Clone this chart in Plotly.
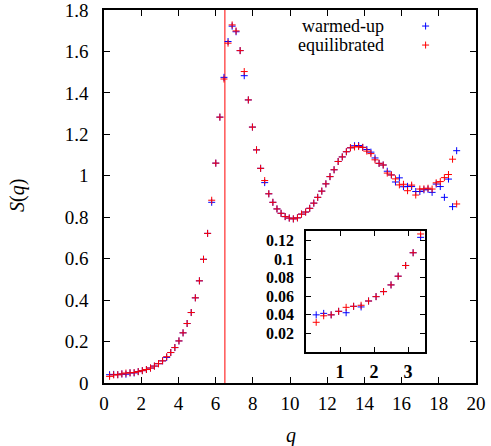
import plotly.graph_objects as go

# Wave numbers of the sampled structure factor
q = [0.30, 0.52, 0.74, 0.96, 1.18, 1.40, 1.62, 1.84, 2.06, 2.28,
     2.50, 2.71, 2.93, 3.15, 3.37, 3.59, 3.81, 4.03, 4.25, 4.47,
     4.69, 4.91, 5.13, 5.35, 5.57, 5.79, 6.01, 6.23, 6.45, 6.67,
     6.89, 7.10, 7.32, 7.54, 7.76, 7.98, 8.20, 8.42, 8.64, 8.86,
     9.08, 9.30, 9.52, 9.74, 9.96, 10.18, 10.40, 10.62, 10.84, 11.06,
     11.28, 11.49, 11.71, 11.93, 12.15, 12.37, 12.59, 12.81, 13.03, 13.25,
     13.47, 13.69, 13.91, 14.13, 14.35, 14.57, 14.79, 15.01, 15.23, 15.45,
     15.67, 15.88, 16.10, 16.32, 16.54, 16.76, 16.98, 17.20, 17.42, 17.64,
     17.86, 18.08, 18.30, 18.52, 18.74, 18.96]

# S(q) after warm-up
s_warmed = [0.040, 0.0416, 0.040, 0.0438, 0.0423, 0.0492, 0.0485, 0.0549, 0.0596, 0.065,
            0.0722, 0.0816, 0.0931, 0.1068, 0.1234, 0.147, 0.171, 0.203, 0.242, 0.287,
            0.340, 0.411, 0.493, 0.597, 0.722, 0.872, 1.061, 1.283, 1.475, 1.648,
            1.722, 1.695, 1.604, 1.483, 1.366, 1.235, 1.125, 1.036, 0.967, 0.913,
            0.872, 0.840, 0.819, 0.803, 0.796, 0.792, 0.797, 0.815, 0.825, 0.843,
            0.868, 0.896, 0.926, 0.961, 0.996, 1.029, 1.069, 1.091, 1.116, 1.135,
            1.145, 1.146, 1.137, 1.127, 1.114, 1.086, 1.060, 1.052, 1.022, 1.004,
            0.970, 0.990, 0.947, 0.949, 0.948, 0.924, 0.924, 0.932, 0.935, 0.920,
            0.960, 0.948, 0.896, 0.984, 0.851, 1.121]

# S(q) after equilibration
s_equil = [0.032, 0.039, 0.040, 0.0438, 0.0481, 0.0492, 0.0503, 0.0549, 0.0596, 0.065,
           0.0722, 0.0816, 0.0931, 0.1068, 0.127, 0.147, 0.171, 0.203, 0.242, 0.287,
           0.340, 0.411, 0.493, 0.597, 0.722, 0.882, 1.061, 1.283, 1.467, 1.640,
           1.728, 1.699, 1.604, 1.503, 1.366, 1.235, 1.125, 1.036, 0.977, 0.913,
           0.872, 0.840, 0.819, 0.803, 0.796, 0.792, 0.797, 0.815, 0.825, 0.843,
           0.868, 0.896, 0.926, 0.961, 0.996, 1.029, 1.069, 1.091, 1.116, 1.135,
           1.139, 1.141, 1.137, 1.119, 1.107, 1.077, 1.060, 1.052, 1.013, 1.004,
           0.985, 0.956, 0.959, 0.928, 0.955, 0.907, 0.936, 0.937, 0.940, 0.936,
           0.966, 0.972, 0.991, 1.006, 1.080, 0.864]

q_line = 6.5  # vertical reference line

x_ticks = [0, 2, 4, 6, 8, 10, 12, 14, 16, 18, 20]
y_ticks = [0, 0.2, 0.4, 0.6, 0.8, 1.0, 1.2, 1.4, 1.6, 1.8]
y_labels = ["0", "0.2", "0.4", "0.6", "0.8", "1", "1.2", "1.4", "1.6", "1.8"]
inset_x_ticks = [0, 1, 2, 3]
inset_x_labels = ["", "1", "2", "3"]
inset_y_ticks = [0.02, 0.04, 0.06, 0.08, 0.10, 0.12]
inset_y_labels = ["0.02", "0.04", "0.06", "0.08", "0.1", "0.12"]

series = [("warmed-up", s_warmed, "#0000ff"), ("equilibrated", s_equil, "#ff0000")]

SERIF = "Liberation Serif, DejaVu Serif, serif"
FS = 19

fig = go.Figure()
for name, s, color in series:
    for xa, ya in (("x", "y"), ("x2", "y2")):
        fig.add_trace(go.Scatter(
            x=q, y=s, mode="markers", name=name, xaxis=xa, yaxis=ya,
            showlegend=False,
            marker=dict(symbol="cross-thin", size=5, color=color,
                        line=dict(width=1, color=color)),
        ))

fig.add_shape(type="line", xref="x", yref="y domain", x0=q_line, x1=q_line,
              y0=0, y1=1, line=dict(color="#ff0000", width=1), layer="below")

axis_common = dict(showline=True, linecolor="black", linewidth=1.5, mirror="ticks",
                   ticks="inside", tickcolor="black", tickwidth=1, showgrid=False,
                   zeroline=False, automargin=False, ticklabeloverflow="allow")
main_font = dict(family=SERIF, size=FS, color="black")
inset_font = dict(family=SERIF, size=16, color="black", weight="bold")

fig.update_layout(
    width=491, height=446, autosize=False,
    margin=dict(l=104, r=15, t=10, b=63, pad=0),
    paper_bgcolor="white", plot_bgcolor="rgba(0,0,0,0)",
    showlegend=False,
    xaxis=dict(domain=[0, 1], range=[0, 20], tickvals=x_ticks, ticklen=6,
               ticklabelstandoff=2, tickfont=main_font, **axis_common),
    yaxis=dict(domain=[0, 1], range=[0, 1.8], tickvals=y_ticks, ticktext=y_labels,
               ticklen=6, ticklabelstandoff=10, tickfont=main_font, **axis_common),
    xaxis2=dict(domain=[0.543, 0.863], range=[0, 3.5], anchor="y2",
                tickvals=inset_x_ticks, ticktext=inset_x_labels, ticklen=5,
                ticklabelstandoff=3, tickfont=dict(inset_font, size=18), **axis_common),
    yaxis2=dict(domain=[0.083, 0.407], range=[0, 0.13], anchor="x2",
                tickvals=inset_y_ticks, ticktext=inset_y_labels, ticklen=5,
                ticklabelstandoff=7, tickfont=inset_font, **axis_common),
)

annotations = [
    dict(text="<i>q</i>", xref="paper", yref="paper", x=0.502, y=-0.14,
         xanchor="center", yanchor="middle", showarrow=False,
         font=dict(family=SERIF, size=20, color="black")),
    dict(text="<i>S</i>(<i>q</i>)", xref="paper", yref="paper", x=-0.234, y=0.504,
         xanchor="center", yanchor="middle", textangle=-90, showarrow=False,
         font=dict(family=SERIF, size=20, color="black")),
]

# Key: label to the left, marker sample to the right
key_rows = [0.957, 0.906]
for (name, s, color), ky in zip(series, key_rows):
    annotations.append(dict(text=name, xref="paper", yref="paper", x=0.757, y=ky,
                            xanchor="right", yanchor="middle", showarrow=False,
                            font=dict(family=SERIF, size=18, color="black")))
    fig.add_shape(type="path", xref="paper", yref="paper",
                  xsizemode="pixel", ysizemode="pixel", xanchor=0.8645, yanchor=ky,
                  path="M-3.5,0 L3.5,0 M0,-3.5 L0,3.5",
                  line=dict(color=color, width=1))

fig.update_layout(annotations=annotations)

fig.write_html("out.html")
